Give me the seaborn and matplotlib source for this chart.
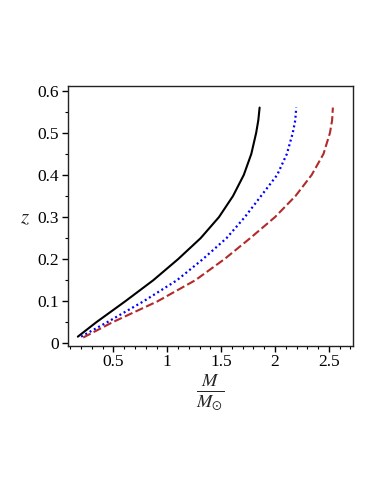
import matplotlib
matplotlib.use("Agg")
import matplotlib.pyplot as plt
import seaborn as sns
from matplotlib.ticker import MultipleLocator, FixedLocator

# Data (M/M_sun, z)
black_x = [0.17, 0.34, 0.61, 0.87, 1.10, 1.31, 1.48, 1.61, 1.71, 1.78, 1.825, 1.845, 1.857]
black_z = [0.016, 0.05, 0.10, 0.15, 0.20, 0.25, 0.30, 0.35, 0.40, 0.45, 0.50, 0.53, 0.56]

blue_x = [0.20, 0.44, 0.78, 1.09, 1.33, 1.55, 1.72, 1.87, 2.02, 2.11, 2.165, 2.188, 2.197]
blue_z = [0.016, 0.05, 0.10, 0.15, 0.20, 0.25, 0.30, 0.35, 0.40, 0.45, 0.50, 0.53, 0.56]

red_x = [0.22, 0.49, 0.91, 1.26, 1.53, 1.77, 2.00, 2.19, 2.34, 2.45, 2.51, 2.53, 2.537]
red_z = [0.014, 0.05, 0.10, 0.15, 0.20, 0.25, 0.30, 0.35, 0.40, 0.45, 0.50, 0.53, 0.56]

x_ticks = [0.5, 1, 1.5, 2, 2.5]
x_ticklabels = ["0.5", "1", "1.5", "2", "2.5"]
y_ticks = [0, 0.1, 0.2, 0.3, 0.4, 0.5, 0.6]
y_ticklabels = ["0", "0.1", "0.2", "0.3", "0.4", "0.5", "0.6"]

sns.set_style("ticks")
plt.rcParams["font.family"] = ["Liberation Serif", "DejaVu Serif"]
plt.rcParams["mathtext.fontset"] = "stix"

fig = plt.figure(figsize=(3.82, 4.94), dpi=100)
ax = fig.add_axes([0.177, 0.300, 0.748, 0.5265])

sns.lineplot(x=black_x, y=black_z, ax=ax, sort=False, color="black", lw=1.5,
             estimator=None)
sns.lineplot(x=blue_x, y=blue_z, ax=ax, sort=False, color="#0000ff", lw=1.6,
             estimator=None, linestyle=(0, (0.9, 1.3)))
sns.lineplot(x=red_x, y=red_z, ax=ax, sort=False, color="#b22a2a", lw=1.5,
             estimator=None, linestyle=(0, (4.0, 1.6)))

ax.set_xlim(0.075, 2.727)
ax.set_ylim(-0.0057, 0.6119)

ax.xaxis.set_major_locator(FixedLocator(x_ticks))
ax.set_xticklabels(x_ticklabels)
ax.yaxis.set_major_locator(FixedLocator(y_ticks))
ax.set_yticklabels(y_ticklabels)
ax.xaxis.set_minor_locator(MultipleLocator(0.1))
ax.yaxis.set_minor_locator(MultipleLocator(0.05))

ax.tick_params(which="major", direction="out", length=4, width=1, labelsize=12.5,
               colors="black", pad=2)
ax.tick_params(which="minor", direction="out", length=2.5, width=0.8, colors="black")

for s in ax.spines.values():
    s.set_visible(True)
    s.set_linewidth(1.0)
    s.set_color("#222222")

ax.set_ylabel(r"$z$", rotation=0, fontsize=15)
ax.yaxis.set_label_coords(-0.15, 0.49)
ax.set_xlabel(r"$\frac{M}{M_{\odot}}$", fontsize=19)
ax.xaxis.set_label_coords(0.498, -0.178)
ax.xaxis.label.set_va("center")
ax.yaxis.label.set_va("center")

fig.savefig("out.png", dpi=100, facecolor="white")
